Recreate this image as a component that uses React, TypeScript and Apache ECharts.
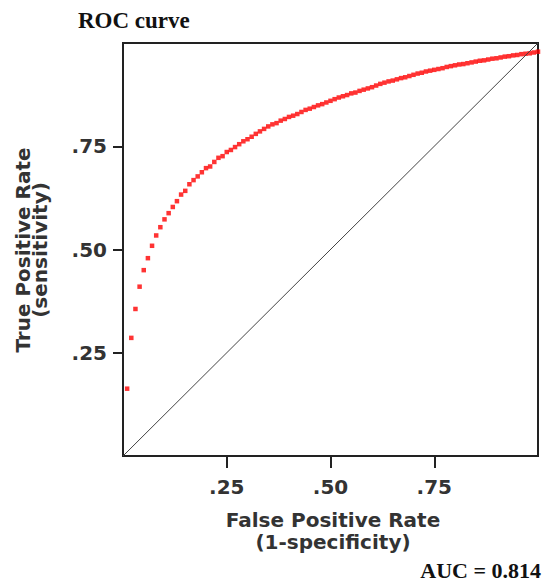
import React, { useEffect, useRef } from "react";
import * as echarts from "echarts";

const fpr = [
  0.01, 0.02, 0.03, 0.04, 0.05, 0.06, 0.07, 0.08, 0.09, 0.10,
  0.11, 0.12, 0.13, 0.14, 0.15, 0.16, 0.17, 0.18, 0.19, 0.20,
  0.21, 0.22, 0.23, 0.24, 0.25, 0.26, 0.27, 0.28, 0.29, 0.30,
  0.31, 0.32, 0.33, 0.34, 0.35, 0.36, 0.37, 0.38, 0.39, 0.40,
  0.41, 0.42, 0.43, 0.44, 0.45, 0.46, 0.47, 0.48, 0.49, 0.50,
  0.51, 0.52, 0.53, 0.54, 0.55, 0.56, 0.57, 0.58, 0.59, 0.60,
  0.61, 0.62, 0.63, 0.64, 0.65, 0.66, 0.67, 0.68, 0.69, 0.70,
  0.71, 0.72, 0.73, 0.74, 0.75, 0.76, 0.77, 0.78, 0.79, 0.80,
  0.81, 0.82, 0.83, 0.84, 0.85, 0.86, 0.87, 0.88, 0.89, 0.90,
  0.91, 0.92, 0.93, 0.94, 0.95, 0.96, 0.97, 0.98, 0.99, 1.00,
];

const tpr = [
  0.163, 0.286, 0.356, 0.410, 0.450, 0.479, 0.509, 0.534, 0.554, 0.573,
  0.588, 0.603, 0.617, 0.633, 0.642, 0.658, 0.668, 0.677, 0.687, 0.697,
  0.701, 0.712, 0.722, 0.726, 0.736, 0.741, 0.748, 0.755, 0.762, 0.767,
  0.773, 0.780, 0.786, 0.792, 0.798, 0.803, 0.806, 0.812, 0.816, 0.821,
  0.824, 0.828, 0.833, 0.838, 0.841, 0.845, 0.849, 0.852, 0.856, 0.860,
  0.864, 0.868, 0.871, 0.874, 0.878, 0.880, 0.884, 0.887, 0.890, 0.893,
  0.897, 0.901, 0.904, 0.907, 0.909, 0.912, 0.915, 0.917, 0.920, 0.923,
  0.926, 0.928, 0.931, 0.933, 0.935, 0.937, 0.939, 0.942, 0.944, 0.946,
  0.948, 0.949, 0.951, 0.953, 0.955, 0.957, 0.958, 0.960, 0.962, 0.963,
  0.965, 0.967, 0.968, 0.970, 0.971, 0.973, 0.974, 0.975, 0.977, 0.979,
];

const diagonal = [
  [0, 0],
  [1, 1],
];

const tickValues = [0.25, 0.5, 0.75];

const titleText = "ROC curve";
const xName = "False Positive Rate\n(1-specificity)";
const yName = "True Positive Rate\n(sensitivity)";
const aucText = "AUC = 0.814";

export default function App() {
  const ref = useRef<HTMLDivElement>(null);

  useEffect(() => {
    if (!ref.current) return;
    const chart = echarts.init(ref.current, null, { renderer: "svg" });
    const fmt = (v: number) => v.toFixed(2).replace(/^0/, "");
    const labelFont = {
      fontFamily: "DejaVu Sans",
      fontWeight: "bold" as const,
      fontSize: 20,
      color: "#333",
    };
    chart.setOption({
      animation: false,
      backgroundColor: "#fff",
      grid: {
        left: 123,
        top: 43,
        width: 415,
        height: 413,
        show: true,
        borderColor: "#222",
        borderWidth: 2,
        backgroundColor: "transparent",
      },
      xAxis: {
        type: "value",
        min: 0,
        max: 1,
        interval: 0.25,
        splitLine: { show: false },
        axisLine: { show: true, lineStyle: { color: "#222", width: 2 } },
        axisTick: {
          show: true,
          length: 12,
          customValues: tickValues,
          lineStyle: { color: "#222", width: 2 },
        },
        axisLabel: {
          ...labelFont,
          margin: 21,
          customValues: tickValues,
          formatter: fmt,
        },
      },
      yAxis: {
        type: "value",
        min: 0,
        max: 1,
        interval: 0.25,
        splitLine: { show: false },
        axisLine: { show: true, lineStyle: { color: "#222", width: 2 } },
        axisTick: {
          show: true,
          length: 10,
          customValues: tickValues,
          lineStyle: { color: "#222", width: 2 },
        },
        axisLabel: {
          ...labelFont,
          margin: 16,
          customValues: tickValues,
          formatter: fmt,
        },
      },
      graphic: [
        {
          type: "text",
          left: 78,
          top: 9,
          style: {
            text: titleText,
            font: "bold 23px 'Liberation Serif', 'Times New Roman', serif",
            fill: "#111",
          },
        },
        {
          type: "text",
          x: 333,
          y: 531,
          style: {
            text: xName,
            font: "bold 20px 'DejaVu Sans'",
            fill: "#333",
            align: "center",
            verticalAlign: "middle",
            lineHeight: 22,
          },
        },
        {
          type: "text",
          x: 31,
          y: 250,
          rotation: Math.PI / 2,
          style: {
            text: yName,
            font: "bold 20px 'DejaVu Sans'",
            fill: "#333",
            align: "center",
            verticalAlign: "middle",
            lineHeight: 17,
          },
        },
        {
          type: "text",
          right: 4,
          top: 559,
          style: {
            text: aucText,
            font: "bold 22px 'Liberation Serif', 'Times New Roman', serif",
            fill: "#111",
          },
        },
      ],
      series: [
        {
          type: "line",
          data: diagonal,
          symbol: "none",
          lineStyle: { color: "#444", width: 1 },
          silent: true,
        },
        {
          type: "scatter",
          data: fpr.map((x, i) => [x, tpr[i]]),
          symbol: "rect",
          symbolSize: 4.5,
          itemStyle: { color: "#ff0000" },
        },
      ],
    });
    return () => chart.dispose();
  }, []);

  return (
    <div
      ref={ref}
      style={{ position: "fixed", left: 0, top: 0, width: 545, height: 582 }}
    />
  );
}
